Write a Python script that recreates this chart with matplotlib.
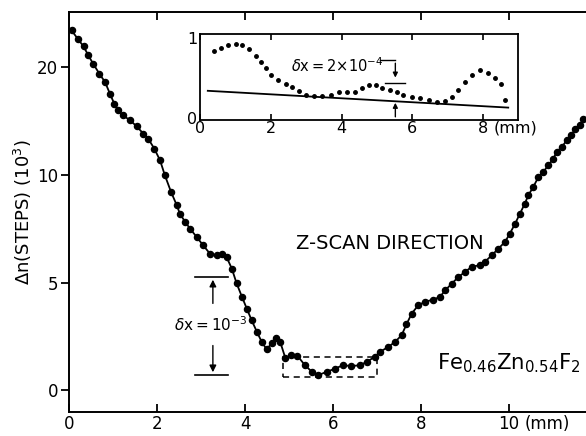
import numpy as np
import matplotlib
matplotlib.use("Agg")
import matplotlib.pyplot as plt
from matplotlib.patches import Rectangle

# ---- main scan data (x in mm, Δn in 10^3 steps) ----
main_x = [0.06, 0.2, 0.33, 0.44, 0.55, 0.69, 0.82, 0.93, 1.03, 1.12, 1.23, 1.39, 1.54, 1.69, 1.8,
          1.94, 2.07, 2.18, 2.32, 2.45, 2.52, 2.64, 2.75, 2.9, 3.05, 3.2, 3.36, 3.47, 3.58, 3.7,
          3.81, 3.93, 4.04, 4.15, 4.27, 4.38, 4.49, 4.61, 4.7, 4.8, 4.92, 5.05, 5.19, 5.36, 5.52,
          5.67, 5.86, 6.05, 6.23, 6.42, 6.61, 6.77, 6.95, 7.07, 7.26, 7.41, 7.56, 7.67, 7.79, 7.94,
          8.09, 8.28, 8.43, 8.55, 8.7, 8.85, 9.0, 9.15, 9.34, 9.45, 9.61, 9.76, 9.91, 10.02, 10.14,
          10.25, 10.36, 10.44, 10.55, 10.67, 10.78, 10.89, 11.01, 11.08, 11.2, 11.31, 11.42, 11.5,
          11.61, 11.69]
main_y = [23.44, 22.66, 21.96, 21.12, 20.34, 19.42, 18.64, 17.56, 16.62, 16.0, 15.54, 15.08, 14.52,
          13.84, 13.38, 12.44, 11.36, 9.98, 9.21, 8.59, 8.2, 7.82, 7.51, 7.12, 6.73, 6.35, 6.27,
          6.35, 6.19, 5.65, 4.96, 4.34, 3.79, 3.25, 2.71, 2.24, 1.9, 2.17, 2.4, 2.24, 1.47, 1.63,
          1.6, 1.16, 0.85, 0.7, 0.85, 1.0, 1.16, 1.11, 1.16, 1.31, 1.55, 1.78, 2.01, 2.24, 2.55,
          3.06, 3.56, 3.95, 4.1, 4.21, 4.33, 4.64, 4.95, 5.26, 5.49, 5.73, 5.81, 5.96, 6.27, 6.58,
          6.89, 7.28, 7.74, 8.21, 8.67, 9.06, 9.44, 9.91, 10.28, 10.9, 11.52, 12.14, 12.6, 13.22,
          13.68, 14.3, 14.62, 15.24]

main_xticks = [0, 2, 4, 6, 8, 10]
main_xticklabels = ["0", "2", "4", "6", "8", "10"]
main_yticks = [0, 5, 10, 20]
main_yticklabels = ["0", "5", "10", "20"]

# ---- inset data ----
ins_x = [0.39, 0.59, 0.78, 1.01, 1.2, 1.39, 1.58, 1.72, 1.86, 2.0, 2.19, 2.42, 2.61, 2.8, 2.99,
         3.22, 3.46, 3.69, 3.92, 4.16, 4.39, 4.58, 4.77, 4.96, 5.15, 5.38, 5.57, 5.75, 5.99, 6.23,
         6.46, 6.7, 6.93, 7.12, 7.3, 7.49, 7.68, 7.92, 8.15, 8.34, 8.5, 8.62]
ins_y = [0.84, 0.87, 0.91, 0.93, 0.91, 0.86, 0.78, 0.70, 0.62, 0.54, 0.475, 0.425, 0.39, 0.34, 0.29,
         0.275, 0.275, 0.29, 0.32, 0.32, 0.33, 0.37, 0.41, 0.41, 0.37, 0.35, 0.33, 0.29, 0.26, 0.246,
         0.225, 0.204, 0.216, 0.26, 0.35, 0.45, 0.54, 0.6, 0.56, 0.5, 0.425, 0.225]
ins_line_x = [0.22, 8.71]
ins_line_y = [0.34, 0.13]
ins_xticks = [0, 2, 4, 6, 8]
ins_xticklabels = ["0", "2", "4", "6", "8"]

W, H = 586, 436
fig = plt.figure(figsize=(W / 100, H / 100), dpi=100)

def fx(px):
    return px / W

def fy(py):
    return 1 - py / H

# main axes
ax = fig.add_axes([fx(69), fy(412), fx(660), fy(12) - fy(412)])

def fwd(y):
    y = np.asarray(y, dtype=float)
    return np.where(y <= 10, y, 10 + (y - 10) / 2)

def inv(p):
    p = np.asarray(p, dtype=float)
    return np.where(p <= 10, p, 10 + (p - 10) * 2)

ax.set_yscale('function', functions=(fwd, inv))
ax.plot(main_x, main_y, color='black', lw=1.3, marker='o', ms=4.4, mfc='black', mec='black')
ax.set_xlim(0, (729 - 69) / 44.0)
ax.set_ylim(-1.02, 25.16)
ax.set_xticks(main_xticks)
ax.set_xticklabels(main_xticklabels)
ax.set_yticks(main_yticks)
ax.set_yticklabels(main_yticklabels)
ax.minorticks_off()
ax.tick_params(axis='x', direction='in', length=6, width=1.3, top=True, labelsize=12, pad=2)
ax.tick_params(axis='y', direction='out', length=6, width=1.3, labelsize=12, pad=2)
for s in ['left', 'bottom', 'top']:
    ax.spines[s].set_linewidth(1.4)
ax.spines['right'].set_visible(False)
ax.set_ylabel(r'$\Delta$n(STEPS) (10$^3$)', fontsize=13, labelpad=2)
ax.annotate('(mm)', xy=(10.36, 0), xycoords=('data', 'axes fraction'),
            xytext=(0, -2.5), textcoords='offset points', ha='left', va='top', fontsize=12)

# dashed box
ax.add_patch(Rectangle((4.86, 0.6), 2.14, 0.93, fill=False, ls=(0, (4, 3)), lw=1.1, ec='black'))

# δx = 10^-3 marker
ax.plot([2.86, 3.61], [5.26, 5.26], color='black', lw=1.2)
ax.plot([2.86, 3.61], [0.7, 0.7], color='black', lw=1.2)
ax.annotate('', xy=(3.27, 5.26), xytext=(3.27, 3.9),
            arrowprops=dict(arrowstyle='-|>', color='black', lw=1.0, mutation_scale=10))
ax.annotate('', xy=(3.27, 0.7), xytext=(3.27, 2.2),
            arrowprops=dict(arrowstyle='-|>', color='black', lw=1.0, mutation_scale=10))
ax.text(3.22, 3.02, r'$\delta$x$=$10$^{-3}$', ha='center', va='center', fontsize=11,
        bbox=dict(fc='white', ec='none', pad=0.5))

ax.text(5.16, 6.83, 'Z-SCAN DIRECTION', ha='left', va='center', fontsize=14)
ax.text(8.36, 1.25, r'Fe$_{0.46}$Zn$_{0.54}$F$_2$', ha='left', va='center', fontsize=15.3)

# inset axes
ia = fig.add_axes([fx(200), fy(120), fx(518 - 200), fy(34) - fy(120)])
ia.plot(ins_x, ins_y, ls='none', marker='o', ms=2.5, color='black')
ia.plot(ins_line_x, ins_line_y, color='black', lw=1.3)
ia.set_xlim((200 - 199) / 35.5, (518 - 199) / 35.5)
ia.set_ylim(-0.025, 1.05)
ia.set_xticks(ins_xticks)
ia.set_xticklabels(ins_xticklabels)
ia.set_yticks([0, 1])
ia.set_yticklabels(["0", "1"])
ia.tick_params(axis='x', direction='in', length=4, width=1.2, top=True, labelsize=11.5, pad=1)
ia.tick_params(axis='y', direction='in', length=0, labelsize=11.5, pad=2)
for s in ia.spines.values():
    s.set_linewidth(1.3)
ia.annotate('(mm)', xy=(8.3, 0), xycoords=('data', 'axes fraction'),
            xytext=(0, -0.5), textcoords='offset points', ha='left', va='top', fontsize=11.5)

# δx = 2x10^-4 marker
ia.text(2.56, 0.66, r'$\delta$x$=$2$\times$10$^{-4}$', ha='left', va='center', fontsize=10.5)
ia.plot([5.1, 5.52], [0.72, 0.72], color='black', lw=1.0)
ia.annotate('', xy=(5.52, 0.47), xytext=(5.52, 0.72),
            arrowprops=dict(arrowstyle='-|>', color='black', lw=1.0, mutation_scale=7))
ia.plot([5.24, 5.8], [0.44, 0.44], color='black', lw=1.0)
ia.annotate('', xy=(5.52, 0.225), xytext=(5.52, -0.02),
            arrowprops=dict(arrowstyle='-|>', color='black', lw=1.0, mutation_scale=7))

fig.savefig('out.png', dpi=100)
